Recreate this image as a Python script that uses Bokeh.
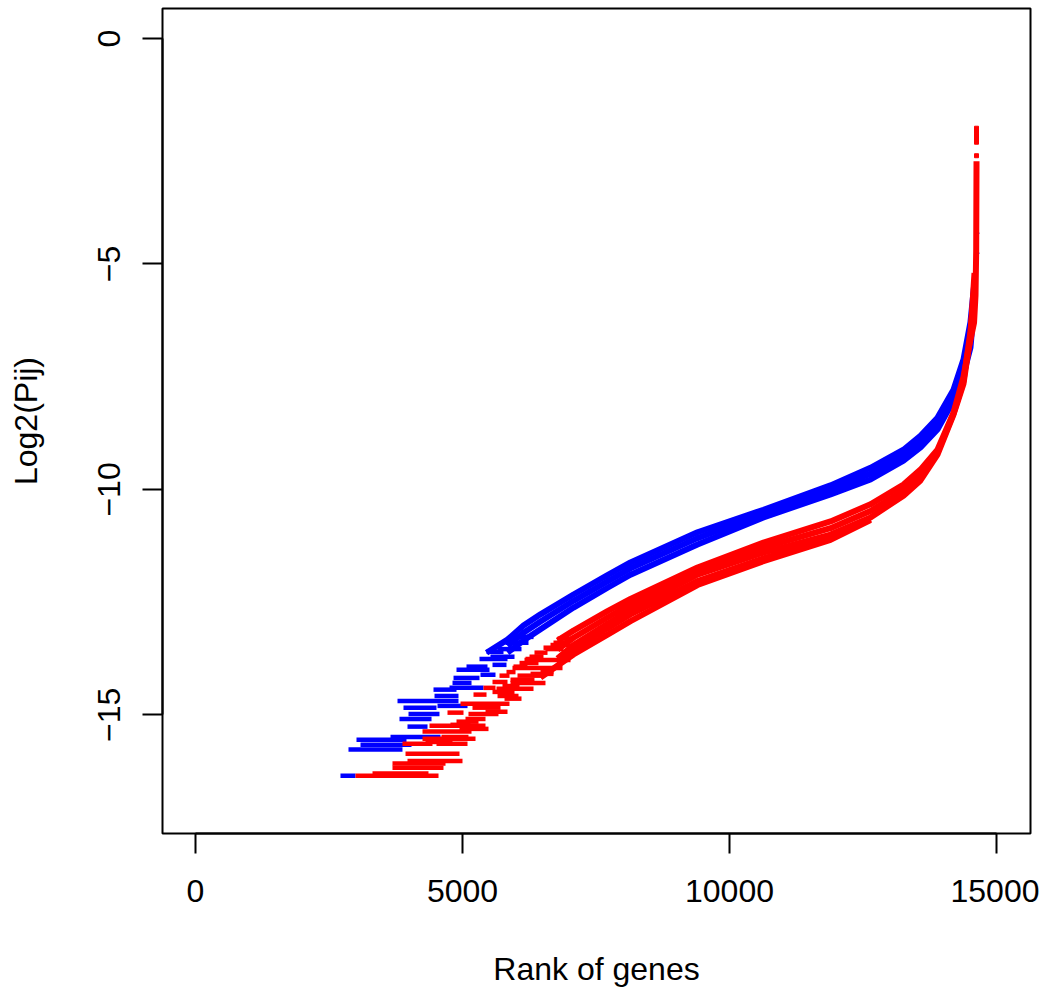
from bokeh.plotting import figure
from bokeh.models import Range1d, FixedTicker
from bokeh.embed import file_html
from bokeh.resources import INLINE

# ---------------- data (rank of genes, log2(Pij)) ----------------
# continuous part of each sorted profile
blue1_rank = [5450, 5843, 6142, 6461, 7079, 7716, 8146, 9401, 10637, 11892, 12641, 13259, 13577, 13895, 14195, 14382, 14513, 14588]
blue1_log = [-13.62, -13.33, -13.02, -12.77, -12.33, -11.90, -11.62, -10.95, -10.45, -9.91, -9.52, -9.12, -8.81, -8.41, -7.79, -7.12, -6.29, -5.40]

blue2_rank = [5843, 6142, 6461, 7079, 7716, 8146, 9401, 10637, 11892, 12641, 13259, 13577, 13895, 14195, 14382, 14513, 14588]
blue2_log = [-13.47, -13.18, -12.93, -12.47, -12.04, -11.75, -11.08, -10.53, -10.01, -9.65, -9.24, -8.94, -8.54, -7.91, -7.28, -6.57, -5.60]

blue3_rank = [5843, 6142, 6461, 7079, 7716, 8146, 9401, 10637, 11892, 12641, 13259, 13577, 13895, 14195, 14382, 14513, 14588]
blue3_log = [-13.62, -13.35, -13.10, -12.62, -12.18, -11.89, -11.22, -10.62, -10.11, -9.78, -9.36, -9.07, -8.67, -8.03, -7.45, -6.85, -5.80]

red1_rank = [6779, 7079, 7716, 8146, 9401, 10637, 11892, 12641, 13259, 13577, 13895, 14195, 14382, 14475, 14580, 14607, 14620, 14626]
red1_log = [-13.35, -13.13, -12.70, -12.43, -11.73, -11.18, -10.71, -10.33, -9.89, -9.56, -9.12, -8.30, -7.50, -6.90, -6.30, -5.70, -4.70, -2.72]

red2_rank = [6779, 7079, 7716, 8146, 9401, 10637, 11892, 12641, 13259, 13577, 13895, 14195, 14382, 14513, 14588]
red2_log = [-13.55, -13.29, -12.84, -12.55, -11.81, -11.29, -10.86, -10.48, -10.02, -9.68, -9.18, -8.32, -7.60, -6.50, -5.50]

red3_rank = [6779, 7079, 7716, 8146, 9401, 10637, 11892, 12641, 13259, 13577, 13895, 14195, 14382, 14513, 14588]
red3_log = [-13.75, -13.45, -12.98, -12.67, -11.89, -11.40, -11.00, -10.62, -10.14, -9.80, -9.23, -8.34, -7.66, -6.60, -5.20]

red4_rank = [6779, 7079, 7716, 8146, 9401, 10637, 11892, 12641]
red4_log = [-13.85, -13.55, -13.08, -12.77, -12.03, -11.53, -11.08, -10.66]

red5_rank = [6461, 7079, 7716, 8146, 9401, 10637, 11892, 12641]
red5_log = [-14.17, -13.66, -13.22, -12.92, -12.12, -11.59, -11.12, -10.68]

# discrete low-count levels: runs of genes sharing the same value
blue_run_start = [2715, 2865, 3090, 3015, 3652, 3970, 3820, 3989, 3895, 4532, 3783, 4476, 4457, 4757, 4813, 4832, 5337, 4888, 5075, 5562, 5318, 5524, 5450, 5656, 5805, 5955]
blue_run_end = [2996, 3876, 4045, 3951, 4588, 4345, 4420, 4569, 4513, 5094, 4925, 4925, 4888, 5393, 5169, 5318, 5618, 5506, 5468, 5824, 5843, 5974, 5768, 6105, 6236, 6330]
blue_run_log = [-16.35, -15.77, -15.66, -15.55, -15.49, -15.26, -15.09, -14.98, -14.84, -14.80, -14.69, -14.58, -14.44, -14.40, -14.29, -14.18, -14.11, -14.00, -13.93, -13.89, -13.76, -13.71, -13.60, -13.54, -13.40, -13.27]

red_run_start = [2996, 3315, 3689, 3689, 3970, 3933, 3876, 4513, 4307, 4251, 4607, 4251, 4944, 4382, 4775, 4888, 5056, 5112, 4719, 5431, 5187, 4963, 5787, 5656, 5206, 5562, 5637, 5393, 5749, 5899, 5562, 5899, 5693, 6030, 6274, 5824, 6461, 5936, 5955, 6068, 6161, 6180, 6255, 6348, 6554, 6517, 6648, 6704, 6779]
red_run_end = [4551, 4363, 4644, 4682, 5000, 4944, 4438, 5094, 4813, 5244, 5112, 5169, 5487, 5431, 5150, 5300, 5431, 5674, 5019, 5843, 5712, 5880, 6105, 6049, 5450, 5974, 6330, 5618, 6068, 6554, 5843, 6348, 5880, 6498, 6704, 5993, 6704, 6873, 6217, 6423, 7023, 6405, 6517, 6592, 6892, 6779, 7023, 6966, 7079]
red_run_log = [-16.35, -16.30, -16.17, -16.08, -16.02, -15.86, -15.64, -15.64, -15.60, -15.53, -15.49, -15.37, -15.31, -15.24, -15.22, -15.15, -15.09, -14.98, -14.95, -14.93, -14.84, -14.75, -14.64, -14.58, -14.55, -14.49, -14.42, -14.40, -14.36, -14.29, -14.27, -14.22, -14.13, -14.13, -14.09, -14.05, -14.05, -13.96, -13.93, -13.85, -13.78, -13.76, -13.71, -13.62, -13.54, -13.51, -13.45, -13.40, -13.31]

# isolated top genes
blue_top_rank = [14642, 14642]
blue_top_log = [-4.32, -4.76]
red_top_rank = [14626, 14626, 14626, 14626, 14626, 14626]
red_top_log = [-1.99, -2.07, -2.15, -2.23, -2.30, -2.60]

x_ticks = [0, 5000, 10000, 15000]
y_ticks = [0, -5, -10, -15]

BLUE = "#0000FF"
RED = "#FF0000"
FONT = "Liberation Sans"

p = figure(width=1039, height=989, output_backend="svg", toolbar_location=None,
           x_range=Range1d(-618, 15637), y_range=Range1d(-17.63, 0.665),
           min_border_left=162, min_border_right=9, min_border_top=8, min_border_bottom=155)
p.xgrid.visible = False
p.ygrid.visible = False
p.background_fill_color = "white"
p.border_fill_color = "white"
p.outline_line_color = "black"
p.outline_line_width = 2

LW = 6
for xs, ys in [(blue1_rank, blue1_log), (blue2_rank, blue2_log), (blue3_rank, blue3_log)]:
    p.line(xs, ys, line_color=BLUE, line_width=LW)
p.segment(x0=blue_run_start, y0=blue_run_log, x1=blue_run_end, y1=blue_run_log,
          line_color=BLUE, line_width=4.5, line_cap="butt")
p.scatter(blue_top_rank, blue_top_log, marker="dash", size=4, line_color=BLUE, line_width=1.5)

for xs, ys in [(red5_rank, red5_log), (red4_rank, red4_log), (red3_rank, red3_log),
               (red2_rank, red2_log), (red1_rank, red1_log)]:
    p.line(xs, ys, line_color=RED, line_width=LW)
p.segment(x0=red_run_start, y0=red_run_log, x1=red_run_end, y1=red_run_log,
          line_color=RED, line_width=4.5, line_cap="butt")
p.scatter(red_top_rank, red_top_log, marker="square", size=4, fill_color=RED, line_color=RED)

for ax in (p.xaxis[0], p.yaxis[0]):
    ax.axis_line_width = 2
    ax.major_tick_line_width = 2
    ax.major_tick_out = 20
    ax.major_tick_in = 0
    ax.minor_tick_line_color = None
    ax.major_label_text_font = FONT
    ax.major_label_text_font_size = "32px"
    ax.major_label_text_color = "black"
    ax.axis_label_text_font = FONT
    ax.axis_label_text_font_size = "32px"
    ax.axis_label_text_font_style = "normal"
    ax.axis_label_text_color = "black"

p.xaxis[0].ticker = FixedTicker(ticks=x_ticks)
p.xaxis[0].bounds = (0, 15000)
p.xaxis[0].axis_label = "Rank of genes"
p.xaxis[0].major_label_standoff = 26
p.xaxis[0].axis_label_standoff = 46

p.yaxis[0].ticker = FixedTicker(ticks=y_ticks)
p.yaxis[0].bounds = (-15, 0)
p.yaxis[0].axis_label = "Log2(Pij)"
p.yaxis[0].major_label_orientation = "vertical"
p.yaxis[0].major_label_standoff = 22
p.yaxis[0].axis_label_standoff = 52

open("out.html", "w").write(file_html(p, INLINE))
